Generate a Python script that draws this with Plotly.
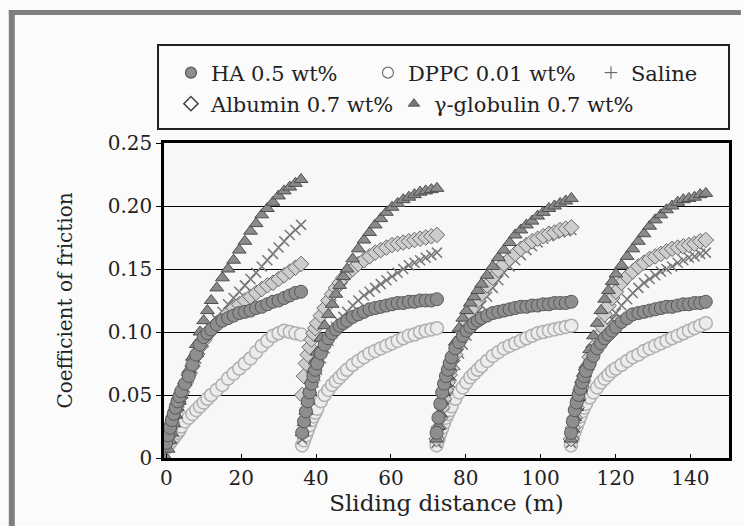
import plotly.graph_objects as go

# ---------------- data ----------------
cycle_start = [0.0, 36.3, 72.2, 108.1]
distance_in_cycle = [0, 0.5, 1, 1.5, 2, 2.5, 3, 3.5, 4, 5, 6, 7, 8, 9, 10, 11, 12,
                     13.5, 15, 16.5, 18, 19.5, 21, 22.5, 24, 25.5, 27, 28.5, 30, 31.5, 33, 34.5, 36]

ha = [
    [0.012, 0.018, 0.024, 0.030, 0.035, 0.040, 0.045, 0.049, 0.053, 0.059, 0.065, 0.074, 0.082, 0.090, 0.096, 0.099, 0.102,
     0.106, 0.109, 0.111, 0.113, 0.115, 0.116, 0.117, 0.119, 0.120, 0.122, 0.124, 0.125, 0.127, 0.129, 0.131, 0.132],
    [0.020, 0.029, 0.037, 0.045, 0.052, 0.059, 0.065, 0.070, 0.075, 0.083, 0.090, 0.095, 0.099, 0.102, 0.105, 0.107, 0.109,
     0.112, 0.114, 0.116, 0.118, 0.119, 0.120, 0.121, 0.122, 0.123, 0.123, 0.124, 0.124, 0.125, 0.125, 0.125, 0.126],
    [0.020, 0.032, 0.043, 0.052, 0.059, 0.065, 0.070, 0.075, 0.080, 0.087, 0.092, 0.097, 0.101, 0.104, 0.107, 0.109, 0.111,
     0.113, 0.115, 0.116, 0.117, 0.118, 0.119, 0.120, 0.120, 0.121, 0.121, 0.122, 0.122, 0.123, 0.123, 0.123, 0.124],
    [0.020, 0.029, 0.038, 0.044, 0.050, 0.055, 0.060, 0.065, 0.069, 0.075, 0.081, 0.087, 0.091, 0.095, 0.098, 0.101, 0.104,
     0.108, 0.111, 0.114, 0.115, 0.116, 0.117, 0.118, 0.119, 0.120, 0.120, 0.121, 0.122, 0.122, 0.123, 0.123, 0.124],
]
dppc = [
    [0.008, 0.010, 0.012, 0.014, 0.016, 0.018, 0.020, 0.022, 0.025, 0.029, 0.032, 0.035, 0.038, 0.041, 0.044, 0.047, 0.050,
     0.054, 0.058, 0.063, 0.067, 0.071, 0.075, 0.079, 0.084, 0.089, 0.093, 0.097, 0.099, 0.101, 0.100, 0.099, 0.098],
    [0.010, 0.014, 0.018, 0.022, 0.026, 0.030, 0.033, 0.036, 0.039, 0.045, 0.050, 0.054, 0.058, 0.061, 0.064, 0.067, 0.070,
     0.074, 0.077, 0.080, 0.083, 0.085, 0.087, 0.089, 0.091, 0.093, 0.095, 0.097, 0.098, 0.100, 0.101, 0.102, 0.103],
    [0.010, 0.015, 0.020, 0.024, 0.028, 0.032, 0.035, 0.038, 0.041, 0.047, 0.052, 0.056, 0.060, 0.064, 0.067, 0.070, 0.073,
     0.077, 0.081, 0.084, 0.087, 0.089, 0.091, 0.093, 0.095, 0.097, 0.099, 0.100, 0.101, 0.102, 0.103, 0.104, 0.105],
    [0.010, 0.016, 0.021, 0.025, 0.029, 0.033, 0.037, 0.040, 0.043, 0.048, 0.052, 0.056, 0.060, 0.063, 0.066, 0.069, 0.071,
     0.074, 0.077, 0.080, 0.082, 0.085, 0.087, 0.089, 0.091, 0.093, 0.095, 0.097, 0.099, 0.101, 0.103, 0.105, 0.107],
]
saline = [
    [0.010, 0.015, 0.020, 0.025, 0.030, 0.035, 0.040, 0.044, 0.048, 0.056, 0.064, 0.071, 0.079, 0.086, 0.092, 0.098, 0.103,
     0.110, 0.116, 0.122, 0.127, 0.132, 0.137, 0.142, 0.147, 0.152, 0.157, 0.162, 0.167, 0.172, 0.177, 0.181, 0.185],
    [0.015, 0.024, 0.032, 0.040, 0.047, 0.054, 0.060, 0.065, 0.070, 0.079, 0.087, 0.093, 0.099, 0.104, 0.108, 0.112, 0.116,
     0.121, 0.125, 0.129, 0.132, 0.135, 0.138, 0.141, 0.144, 0.147, 0.150, 0.153, 0.155, 0.157, 0.159, 0.161, 0.163],
    [0.012, 0.020, 0.028, 0.035, 0.042, 0.049, 0.055, 0.060, 0.065, 0.074, 0.083, 0.090, 0.097, 0.104, 0.110, 0.116, 0.121,
     0.128, 0.135, 0.141, 0.147, 0.152, 0.157, 0.161, 0.165, 0.168, 0.171, 0.174, 0.176, 0.178, 0.179, 0.180, 0.181],
    [0.012, 0.020, 0.028, 0.035, 0.042, 0.049, 0.055, 0.060, 0.065, 0.074, 0.082, 0.089, 0.095, 0.100, 0.105, 0.110, 0.115,
     0.121, 0.126, 0.131, 0.135, 0.139, 0.142, 0.145, 0.148, 0.150, 0.152, 0.155, 0.157, 0.159, 0.160, 0.162, 0.163],
]
albumin = [
    [0.012, 0.017, 0.023, 0.028, 0.033, 0.038, 0.043, 0.047, 0.051, 0.059, 0.066, 0.073, 0.081, 0.088, 0.093, 0.098, 0.102,
     0.107, 0.111, 0.115, 0.119, 0.122, 0.125, 0.128, 0.131, 0.134, 0.137, 0.139, 0.142, 0.145, 0.148, 0.151, 0.154],
    [0.050, 0.065, 0.075, 0.082, 0.088, 0.094, 0.099, 0.103, 0.107, 0.113, 0.119, 0.125, 0.130, 0.135, 0.139, 0.143, 0.146,
     0.150, 0.154, 0.157, 0.160, 0.163, 0.165, 0.167, 0.169, 0.170, 0.171, 0.172, 0.173, 0.174, 0.175, 0.176, 0.177],
    [0.015, 0.024, 0.032, 0.040, 0.047, 0.054, 0.060, 0.066, 0.071, 0.082, 0.092, 0.100, 0.108, 0.115, 0.120, 0.125, 0.130,
     0.137, 0.143, 0.149, 0.154, 0.158, 0.162, 0.166, 0.169, 0.172, 0.174, 0.176, 0.178, 0.179, 0.181, 0.182, 0.183],
    [0.015, 0.024, 0.032, 0.040, 0.047, 0.054, 0.060, 0.065, 0.070, 0.080, 0.088, 0.096, 0.105, 0.114, 0.121, 0.127, 0.132,
     0.139, 0.144, 0.148, 0.152, 0.155, 0.158, 0.160, 0.162, 0.164, 0.166, 0.167, 0.168, 0.169, 0.170, 0.172, 0.173],
]
globulin = [
    [0.000, 0.007, 0.014, 0.020, 0.027, 0.034, 0.040, 0.045, 0.050, 0.060, 0.070, 0.080, 0.090, 0.100, 0.109, 0.117, 0.125,
     0.135, 0.143, 0.150, 0.157, 0.165, 0.172, 0.180, 0.186, 0.193, 0.198, 0.203, 0.208, 0.212, 0.215, 0.218, 0.221],
    [0.020, 0.028, 0.037, 0.045, 0.054, 0.062, 0.070, 0.077, 0.084, 0.095, 0.105, 0.114, 0.122, 0.130, 0.137, 0.144, 0.150,
     0.158, 0.166, 0.173, 0.179, 0.185, 0.190, 0.195, 0.199, 0.202, 0.205, 0.207, 0.209, 0.211, 0.212, 0.213, 0.214],
    [0.015, 0.025, 0.035, 0.045, 0.052, 0.059, 0.065, 0.072, 0.079, 0.092, 0.103, 0.111, 0.117, 0.123, 0.128, 0.133, 0.138,
     0.145, 0.152, 0.159, 0.165, 0.171, 0.177, 0.181, 0.185, 0.188, 0.192, 0.195, 0.198, 0.200, 0.202, 0.204, 0.206],
    [0.015, 0.023, 0.032, 0.040, 0.048, 0.055, 0.062, 0.068, 0.074, 0.086, 0.097, 0.107, 0.117, 0.126, 0.133, 0.140, 0.146,
     0.153, 0.160, 0.166, 0.172, 0.178, 0.184, 0.189, 0.193, 0.197, 0.200, 0.203, 0.205, 0.206, 0.207, 0.209, 0.210],
]

series_names = ["HA 0.5 wt%", "DPPC 0.01 wt%", "Saline", "Albumin 0.7 wt%", "γ-globulin 0.7 wt%"]
y_tick_values = [0, 0.05, 0.10, 0.15, 0.20, 0.25]
y_tick_labels = ["0", "0.05", "0.10", "0.15", "0.20", "0.25"]
x_tick_values = [0, 20, 40, 60, 80, 100, 120, 140]

# ---------------- helpers ----------------
def xs():
    return [s + d for s in cycle_start for d in distance_in_cycle]

def flat(cycles):
    return [v for c in cycles for v in c]

FONT = "DejaVu Serif"

styles = {
    "HA 0.5 wt%": dict(symbol="circle", color="#8e8e8e", line=dict(color="#585858", width=1), size=13),
    "DPPC 0.01 wt%": dict(symbol="circle", color="#ececec", line=dict(color="#b0b0b0", width=1.5), size=13),
    "Saline": dict(symbol="x-thin", color="#777777", line=dict(color="#777777", width=1.5), size=10),
    "Albumin 0.7 wt%": dict(symbol="diamond", color="#cdcdcd", line=dict(color="#686868", width=1), size=12),
    "γ-globulin 0.7 wt%": dict(symbol="triangle-up", color="#8a8a8a", line=dict(color="#4e4e4e", width=1), size=12),
}
legend_styles = {
    "HA 0.5 wt%": dict(symbol="circle", color="#8e8e8e", line=dict(color="#585858", width=1.2), size=11),
    "DPPC 0.01 wt%": dict(symbol="circle-open", color="#707070", line=dict(color="#707070", width=1.2), size=11),
    "Saline": dict(symbol="cross-thin", color="#555555", line=dict(color="#555555", width=1), size=9),
    "Albumin 0.7 wt%": dict(symbol="diamond-open", color="#444444", line=dict(color="#444444", width=1.5), size=11),
    "γ-globulin 0.7 wt%": dict(symbol="triangle-up", color="#777777", line=dict(color="#555555", width=1), size=10),
}

data_by_name = {
    "HA 0.5 wt%": ha,
    "DPPC 0.01 wt%": dppc,
    "Saline": saline,
    "Albumin 0.7 wt%": albumin,
    "γ-globulin 0.7 wt%": globulin,
}

fig = go.Figure()
# drawing order (bottom to top)
for name in ["DPPC 0.01 wt%", "Saline", "Albumin 0.7 wt%", "γ-globulin 0.7 wt%", "HA 0.5 wt%"]:
    fig.add_trace(go.Scatter(x=xs(), y=flat(data_by_name[name]), mode="markers",
                             marker=styles[name], name=name, showlegend=False))

legend_group = {"HA 0.5 wt%": ("legend", 152), "DPPC 0.01 wt%": ("legend", 178), "Saline": ("legend", 70),
                "Albumin 0.7 wt%": ("legend2", 178), "γ-globulin 0.7 wt%": ("legend2", 200)}
for rank, name in enumerate(series_names):
    lg, lw = legend_group[name]
    fig.add_trace(go.Scatter(x=[None], y=[None], mode="markers", marker=legend_styles[name],
                             name=name, legend=lg, legendwidth=lw, legendrank=rank + 1,
                             showlegend=True))

# pixel helpers for paper coords
L, R, T, B = 164, 732, 143, 458
def px(xp):
    return (xp - L) / (R - L)
def py(yp):
    return (B - yp) / (B - T)

legend_common = dict(orientation="h", bgcolor="rgba(0,0,0,0)", borderwidth=0,
                     font=dict(family=FONT, size=21, color="#222"), xanchor="left",
                     yanchor="middle", itemsizing="trace", tracegroupgap=0)

fig.update_layout(
    width=744, height=526,
    margin=dict(l=L, r=744 - R, t=T, b=526 - B),
    paper_bgcolor="#fbfbfb", plot_bgcolor="#f7f7f7",
    font=dict(family=FONT, size=20, color="#222"),
    legend=dict(x=px(171), y=py(73), **legend_common),
    legend2=dict(x=px(171), y=py(104), **legend_common),
    xaxis=dict(range=[-0.6, 150.3], tickvals=x_tick_values, ticks="inside", ticklen=4,
               tickcolor="black", tickwidth=1, showgrid=False, zeroline=False,
               showline=True, linecolor="black", linewidth=3, mirror=True,
               tickfont=dict(family=FONT, size=20, color="#222"),
               title=dict(text="Sliding distance (m)", font=dict(family=FONT, size=23, color="#222"),
                          standoff=4)),
    yaxis=dict(range=[0, 0.25], tickvals=y_tick_values, ticktext=y_tick_labels, ticks="outside",
               ticklen=5, tickcolor="black", showgrid=True, gridcolor="black", gridwidth=1.3,
               zeroline=False, showline=True, linecolor="black", linewidth=2.5, mirror=True,
               tickfont=dict(family=FONT, size=20, color="#222"),
               title=dict(text="Coefficient of friction", font=dict(family=FONT, size=20, color="#222"),
                          standoff=30)),
    showlegend=True,
)

shapes = [
    # legend box
    dict(type="rect", xref="paper", yref="paper", x0=px(158), x1=px(732), y0=py(129), y1=py(45),
         line=dict(color="#222", width=2), fillcolor="rgba(0,0,0,0)", layer="below"),
    # outer grey frame (top and left bands)
    dict(type="rect", xref="paper", yref="paper", x0=px(8), x1=px(744), y0=py(15), y1=py(10),
         line=dict(width=0), fillcolor="#7f7f7f"),
    dict(type="rect", xref="paper", yref="paper", x0=px(8), x1=px(14), y0=py(526), y1=py(10),
         line=dict(width=0), fillcolor="#7f7f7f"),
]
fig.update_layout(shapes=shapes)

fig.write_html("out.html")
